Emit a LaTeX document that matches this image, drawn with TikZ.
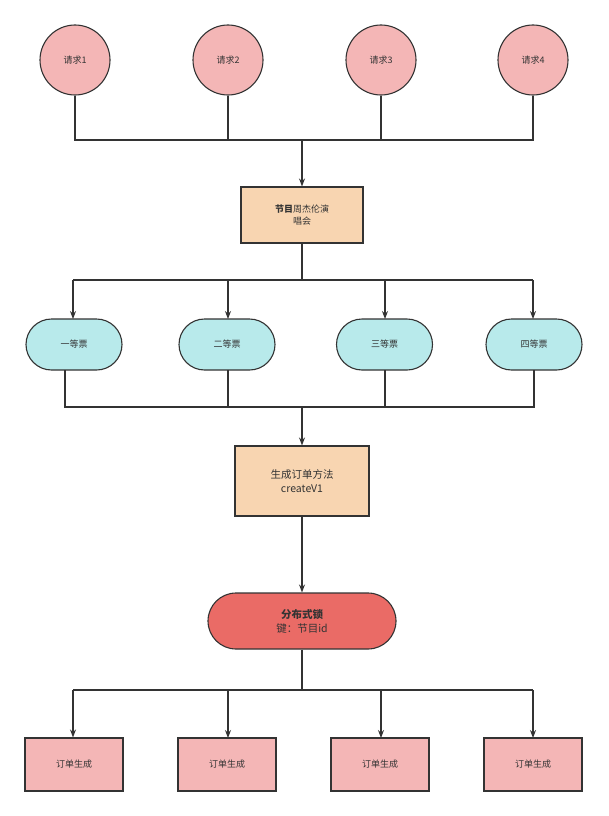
\documentclass[tikz,border=0pt]{standalone}
\usepackage{fontspec}
\setmainfont{Noto Sans CJK SC}
\usetikzlibrary{arrows.meta,shapes.misc}
\definecolor{pinkc}{HTML}{F4B6B6}
\definecolor{orangec}{HTML}{F8D5B1}
\definecolor{cyanc}{HTML}{B8EAEB}
\definecolor{redc}{HTML}{EA6B66}
\definecolor{linec}{HTML}{333333}
\begin{document}
\begin{tikzpicture}[x=1pt,y=-1pt,
  base/.style={draw=linec,line width=1.1pt,text=linec,font=\fontsize{9}{12}\selectfont,inner sep=0pt,align=center},
  req/.style={base,circle,fill=pinkc,minimum size=70pt},
  prog/.style={base,rectangle,fill=orangec},
  tix/.style={base,rounded rectangle,fill=cyanc,minimum width=96pt,minimum height=51pt},
  gen/.style={base,rectangle,fill=pinkc,minimum width=98pt,minimum height=53pt},
  ln/.style={draw=linec,line width=1.1pt},
  arr/.style={ln,-{Stealth[length=8pt,width=6pt]}}]
\useasboundingbox (0,0) rectangle (608,816);
\foreach \i/\x in {1/75,2/228,3/381,4/533}{
  \node[req] (r\i) at (\x,60) {请求\i};
}
\node[prog,minimum width=122pt,minimum height=56pt] (p) at (302,215) {\textbf{节目}周杰伦演\\唱会};
\node[tix] (t1) at (74,344.5) {一等票};
\node[tix] (t2) at (227,344.5) {二等票};
\node[tix] (t3) at (384.5,344.5) {三等票};
\node[tix] (t4) at (534,344.5) {四等票};
\node[prog,minimum width=134pt,minimum height=70pt,font=\fontsize{10.5}{14}\selectfont] (m) at (302,481) {生成订单方法\\createV1};
\node[base,rounded rectangle,fill=redc,minimum width=188pt,minimum height=56pt,font=\fontsize{10.5}{14}\selectfont] (l) at (302,621) {\textbf{分布式锁}\\键：节目id};
\node[gen] (g1) at (74,764.5) {订单生成};
\node[gen] (g2) at (227,764.5) {订单生成};
\node[gen] (g3) at (380,764.5) {订单生成};
\node[gen] (g4) at (533,764.5) {订单生成};
% requests to program
\coordinate (j1) at (302,140);
\draw[ln] (r1.south) |- (j1) (r4.south) |- (j1) (r2.south) -- (228,140) (r3.south) -- (381,140);
\draw[arr] (j1) -- (p.north);
% program to tickets
\coordinate (j2) at (302,280);
\draw[ln] (p.south) -- (j2);
\draw[ln] (73,280) -- (533,280);
\draw[arr] (73,280) -- (73,319);
\draw[arr] (228,280) -- (228,319);
\draw[arr] (385,280) -- (385,319);
\draw[arr] (533,280) -- (533,319);
% tickets to method
\coordinate (j3) at (302,407);
\draw[ln] (65,370) |- (534,407) -- (534,370);
\draw[ln] (228,370) -- (228,407) (385,370) -- (385,407);
\draw[arr] (j3) -- (m.north);
\draw[arr] (m.south) -- (l.north);
% lock to generation
\draw[ln] (l.south) -- (302,690);
\draw[ln] (73,690) -- (533,690);
\draw[arr] (73,690) -- (g1.north -| 73,0);
\draw[arr] (228,690) -- (228,738);
\draw[arr] (381,690) -- (381,738);
\draw[arr] (533,690) -- (533,738);
\end{tikzpicture}
\end{document}
